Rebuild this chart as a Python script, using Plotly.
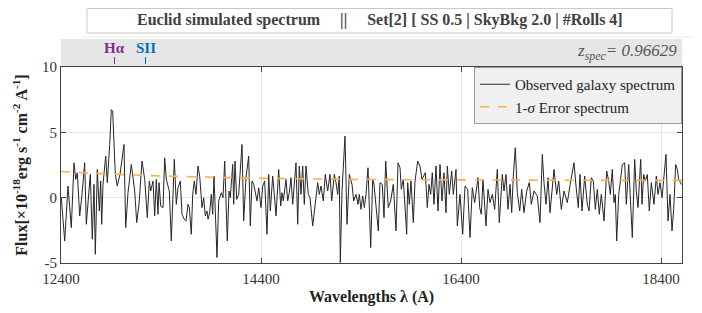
import plotly.graph_objects as go

# ---------------- data ----------------
wavelength = [
    12403, 12437, 12470, 12503, 12530, 12547, 12563, 12587, 12610, 12637, 12653, 12670, 12693, 12713,
    12730, 12743, 12763, 12783, 12797, 12807, 12820, 12847, 12863, 12887, 12903, 12917, 12930, 12943,
    12963, 12990, 13030, 13047, 13070, 13103, 13137, 13157, 13180, 13210, 13237, 13263, 13283, 13297,
    13320, 13337, 13353, 13370, 13380, 13397, 13420, 13437,
    13453, 13467, 13483, 13503, 13533, 13553, 13570, 13593, 13610, 13633, 13650, 13670, 13683, 13703,
    13717, 13733, 13750, 13770, 13787, 13810, 13827, 13843, 13860, 13870, 13887, 13903, 13917, 13930,
    13960, 13977, 14003, 14020, 14037, 14063, 14080, 14093, 14117, 14127, 14140, 14157, 14177, 14210,
    14227, 14250, 14277, 14293, 14310, 14327, 14343, 14360, 14377, 14400, 14417, 14437, 14460, 14477,
    14493, 14517, 14533, 14550, 14577, 14597, 14610, 14623, 14650, 14667, 14683, 14700, 14717, 14750,
    14767, 14783, 14800, 14817, 14833, 14850, 14873, 14890, 14917, 14943, 14967, 14983, 15000, 15023,
    15043, 15067, 15090, 15107, 15133, 15150, 15167, 15183, 15193, 15210, 15240, 15260, 15283, 15310,
    15327, 15350, 15370, 15383, 15400, 15417, 15433, 15450, 15470, 15497,
    15517, 15530, 15573, 15590, 15613, 15630, 15647, 15673, 15697, 15723, 15750, 15770, 15790, 15803,
    15823, 15857, 15867, 15883, 15900, 15923, 15940, 15967, 15990, 16010, 16030, 16043, 16063, 16080,
    16097, 16113, 16130, 16150, 16170, 16190, 16210, 16230, 16250, 16263, 16283, 16307, 16323, 16350,
    16363, 16390, 16417, 16440, 16467, 16490, 16513, 16537,
    16570, 16587, 16603, 16620, 16650, 16670, 16690, 16713, 16737, 16763, 16783, 16813, 16830, 16850,
    16870, 16890, 16907, 16923, 16943, 16963, 16987, 17007, 17030, 17057, 17083, 17103, 17130, 17163,
    17190, 17213, 17230, 17250, 17270, 17290, 17330, 17357, 17377, 17403, 17430, 17463, 17497, 17530,
    17550, 17573, 17590,
    17610, 17637, 17663, 17680, 17703, 17723, 17743, 17763, 17783, 17803, 17830, 17857, 17877, 17893,
    17913, 17930, 17943, 17957, 17977, 17990, 18013, 18037, 18053, 18077, 18093, 18113, 18137, 18153,
    18170, 18197, 18210, 18227, 18243, 18263, 18283, 18303, 18330, 18353, 18370, 18390, 18410, 18450,
    18470, 18490, 18510, 18527, 18547, 18563, 18577, 18605,
]
flux = [
    0.00, -3.31, 0.89, -2.29, 2.67, 1.40, 1.91, -1.40, 0.25, 2.67, -2.04, -0.38, 1.78, -3.18,
    1.02, -4.33, 2.16, -1.02, 1.27, -2.04, 1.02, 3.18, 1.15, 4.07, 6.74, 6.62, 4.07, 1.78,
    0.89, 1.78, 4.07, -2.29, 0.38, 2.54, 0.51, -1.91, -0.51, 2.80, 1.40, -1.53, 1.27, 0.51,
    1.27, -1.40, 1.40, -1.27, 1.15, -0.64, -0.76, 3.05,
    1.40, 1.02, 0.51, -3.31, 2.93, -0.51, 0.76, 1.27, -1.27, -1.65, -1.78, -0.51, -0.76, -2.80,
    0.25, 1.27, 0.25, 2.42, 1.65, -0.76, 0.00, -1.40, -1.02, -1.65, -1.15, 0.25, -1.27, 1.65,
    -4.58, -0.25, 0.38, 0.00, 2.80, -3.31, 0.51, 0.00, 2.54, -0.51, 2.80, -0.13, 0.25, 4.07,
    -1.78, 1.53, 3.18, -2.16, 1.27, 1.02, 0.38, -0.25, 0.76, -0.76, 0.89, 1.27, -2.80, 1.78,
    -1.02, 1.65, 0.25, -1.40, 2.16, -0.64, 0.38, -0.25, 1.40, -0.25, 0.38, 1.53, -0.51, 2.67,
    -2.04, 2.42, 0.25, 2.42, -0.51, 2.42, 0.25, 0.00, -2.16, -0.51, 1.15, 0.25, 0.89, -0.25,
    1.78, 0.51, 1.78, -0.25, 1.78, 1.15, 0.25, 1.65, -4.96, 0.51, 4.71, -2.04, 1.78, 1.02,
    -0.25, 0.25, -0.51, 0.25, -0.89, 0.13, -0.76, 0.25, 2.29, -3.82,
    1.40, 1.02, -2.54, 1.15, 1.02, -1.53, 2.80, -0.76, -0.25, 1.02, -2.54, 2.67, 2.29, 0.64,
    1.40, -2.80, 1.15, -0.51, 1.27, -1.91, 1.27, 2.80, 2.42, 1.40, 1.78, 1.91, -0.76, 1.02,
    0.25, 1.91, -0.51, 2.42, -1.02, 2.54, -0.25, 1.91, -1.15, 2.42, 0.25, 2.04, 0.25, 2.16,
    -2.16, 0.25, -2.80, 0.89, 0.64, -3.05, 0.76, -0.38,
    1.53, -0.76, -1.27, 1.40, -2.16, 0.64, -0.38, 0.25, -0.89, 2.16, -1.91, 1.78, 0.51, 1.78,
    -0.89, 1.02, -1.15, 1.65, 3.82, 0.38, -1.02, 0.64, -1.15, 0.51, 1.15, -0.51, 0.51, 0.13,
    -1.91, 3.31, 1.15, -0.51, 1.53, -1.15, 2.16, 0.25, 1.27, -0.89, 0.51, -0.38, 1.27, 2.67,
    0.89, -0.76, 1.78,
    -1.02, 1.65, -0.51, -1.02, 1.53, 1.27, -0.89, 0.64, -1.27, 0.25, -1.78, 2.04, 1.27, 0.25,
    2.16, -0.38, 0.25, -3.31, 0.25, 1.02, 2.54, 2.67, -0.51, 2.54, 0.25, -3.05, 2.93, 0.51,
    -0.76, 2.93, -0.51, 1.78, 1.27, 1.78, -1.02, 1.15, -0.51, 1.65, 0.25, 1.15, 0.00, 3.31,
    -1.78, 0.25, -2.54, -0.89, 2.54, 2.16, 1.40, 1.00,
]
err_wavelength = [12400, 12900, 13400, 13900, 14400, 15400, 16400, 17400, 18610]
err_flux = [2.00, 1.80, 1.66, 1.55, 1.48, 1.39, 1.35, 1.33, 1.32]

line_names = ["H\u03b1", "SII"]
line_wavelengths = [12935, 13245]
line_colors = ["#7e2f8e", "#0072bd"]

x_ticks = [12400, 14400, 16400, 18400]
y_ticks = [-5, 0, 5, 10]
z_spec = "0.96629"
NB = "\u00a0"
title_text = ("Euclid simulated spectrum" + NB * 5 + "||" + NB * 5 +
              "Set[2] [ SS 0.5 | SkyBkg 2.0 | #Rolls 4]")

# ---------------- layout geometry (screen pixels; page has an 8px body margin) ----------------
OFF = 8
W, H = 694, 305
L, R, T, B = 61 - OFF, 682 - OFF, 67 - OFF, 263 - OFF  # plot area in figure pixels


def px(xs):
    return (xs - OFF - L) / (R - L)


def py(ys):
    return (B - (ys - OFF)) / (B - T)


SERIF = "Liberation Serif, Times New Roman, serif"

fig = go.Figure()
fig.add_trace(go.Scatter(
    x=wavelength, y=flux, mode="lines", name="Observed galaxy spectrum",
    line=dict(color="#262626", width=1),
))
fig.add_trace(go.Scatter(
    x=err_wavelength, y=err_flux, mode="lines", name="1-<i>\u03c3</i> Error spectrum",
    line=dict(color="#f9b04c", width=1.6, dash="dash"),
))

shapes = []
annotations = []

# faint frame line
shapes.append(dict(type="line", xref="paper", yref="paper", x0=px(80), x1=px(702), y0=py(37), y1=py(37),
                   line=dict(color="#ebebeb", width=1)))

# title box
shapes.append(dict(type="rect", xref="paper", yref="paper", x0=px(87), x1=px(672), y0=py(33), y1=py(8.5),
                   line=dict(color="#c8c8c8", width=1), fillcolor="white"))
annotations.append(dict(xref="paper", yref="paper", x=px(380), y=py(20), text="<b>" + title_text + "</b>",
                        showarrow=False, font=dict(family=SERIF, size=16, color="#404040"),
                        xanchor="center", yanchor="middle"))

# gray band above the plot
shapes.append(dict(type="rect", xref="paper", yref="paper", x0=0, x1=1, y0=1, y1=py(39),
                   line=dict(width=0), fillcolor="#e6e6e6", layer="below"))

# emission line markers
for name, wl, col in zip(line_names, line_wavelengths, line_colors):
    shapes.append(dict(type="line", xref="x", yref="paper", x0=wl, x1=wl, y0=py(64), y1=py(57),
                       line=dict(color=col, width=1)))
    annotations.append(dict(xref="x", yref="paper", x=wl, y=py(48), text="<b>" + name + "</b>",
                            showarrow=False, font=dict(family=SERIF, size=15, color=col),
                            xanchor="center", yanchor="middle"))

# redshift label
annotations.append(dict(xref="paper", yref="paper", x=px(679), y=py(52),
                        text="<i>z</i><sub><i>spec</i></sub><i>= " + z_spec + "</i>",
                        showarrow=False, font=dict(family=SERIF, size=17, color="#555555"),
                        xanchor="right", yanchor="middle"))

fig.update_layout(
    width=W, height=H,
    margin=dict(l=L, r=W - R, t=T, b=H - B, pad=0, autoexpand=False),
    paper_bgcolor="white", plot_bgcolor="white",
    font=dict(family=SERIF, size=15, color="#333333"),
    shapes=shapes, annotations=annotations,
    showlegend=True,
    legend=dict(x=1, y=1, xanchor="right", yanchor="top", bgcolor="#f0f0f0",
                bordercolor="#9a9a9a", borderwidth=1, font=dict(family=SERIF, size=15, color="#222222"),
                itemwidth=30, tracegroupgap=0),
)

fig.update_xaxes(
    range=[12400, 18610], tickvals=x_ticks, ticktext=[str(v) for v in x_ticks],
    showgrid=True, gridcolor="#e6e6e6", gridwidth=1, zeroline=False,
    showline=True, linecolor="#444444", linewidth=1, mirror="ticks",
    ticks="inside", ticklen=5, tickcolor="#444444", automargin=False,
    ticklabelstandoff=2,
    tickfont=dict(family=SERIF, size=15, color="#333333"),
    title=dict(text="<b>Wavelengths \u03bb (A)</b>", font=dict(family=SERIF, size=16, color="#222222"),
               standoff=4),
)
fig.update_yaxes(
    range=[-5, 10], tickvals=y_ticks, ticktext=[str(v) for v in y_ticks],
    showgrid=True, gridcolor="#e6e6e6", gridwidth=1, zeroline=False,
    showline=True, linecolor="#444444", linewidth=1, mirror="ticks",
    ticks="inside", ticklen=5, tickcolor="#444444", automargin=False,
    tickfont=dict(family=SERIF, size=15, color="#333333"),
    title=dict(text="<b>Flux[\u00d710<sup>-18</sup>erg s<sup>-1</sup> cm<sup>-2</sup> A<sup>-1</sup>]</b>",
               font=dict(family=SERIF, size=16, color="#222222"), standoff=10),
)

fig.write_html("out.html")
